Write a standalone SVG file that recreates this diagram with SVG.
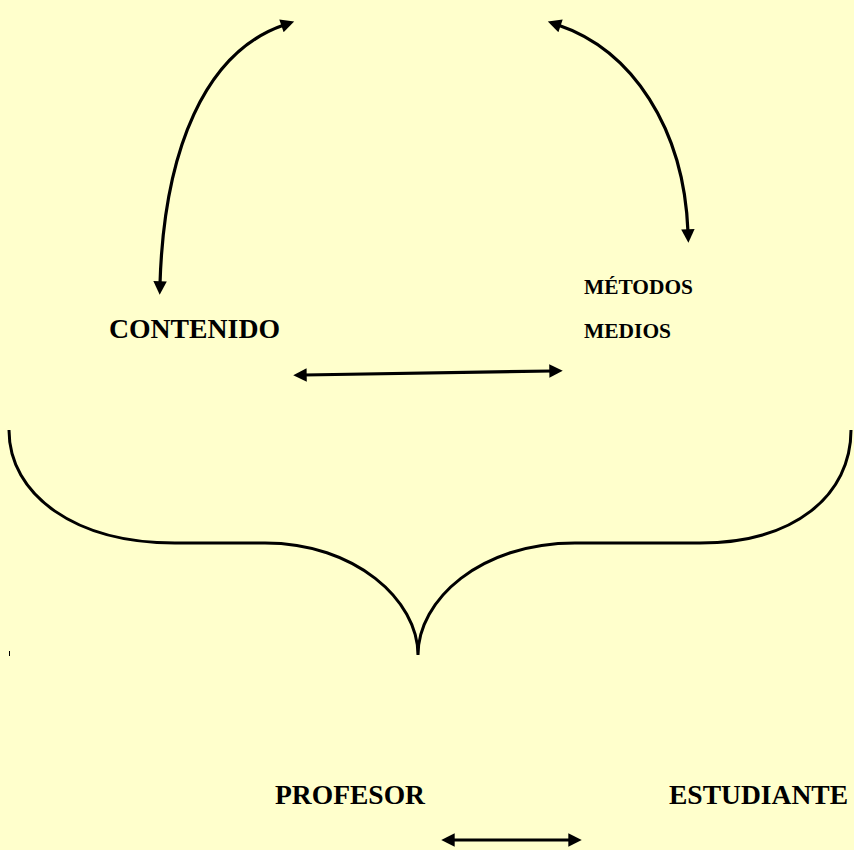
<svg xmlns="http://www.w3.org/2000/svg" width="854" height="850" viewBox="0 0 854 850">
<style>
.lbl{font-family:"Liberation Serif","Times New Roman",serif;font-weight:bold;fill:#000}
.big{font-size:28px}
.small{font-size:21px}
.conn{fill:none;stroke:#000;stroke-width:3.2}
.brace{fill:none;stroke:#000;stroke-width:3}
</style>
<defs>
<marker id="ah" viewBox="0 0 10 10" refX="2" refY="5" markerWidth="4.6" markerHeight="4.2" orient="auto-start-reverse" markerUnits="strokeWidth">
<path d="M0,0 L10,5 L0,10 z" fill="#000"/>
</marker>
</defs>
<rect x="0" y="0" width="854" height="850" fill="#FFFFCC"/>
<g id="connectors">
<path class="conn" d="M160,284 C164,150 205,52 284,25" marker-start="url(#ah)" marker-end="url(#ah)"/>
<path class="conn" d="M558,25 C632,50 684,128 688,232" marker-start="url(#ah)" marker-end="url(#ah)"/>
<path class="conn" d="M304,375 L552,371" marker-start="url(#ah)" marker-end="url(#ah)"/>
<path class="conn" d="M452,840 L571,840" marker-start="url(#ah)" marker-end="url(#ah)"/>
</g>
<g id="brace">
<path class="brace" d="M9,430 C9,495 75,543 175,543 L265,543 C355,543 418,600 418,655 C418,600 480,543 575,543 L700,543 C795,543 851,495 851,430"/>
<line x1="9.5" y1="651" x2="9.5" y2="656" stroke="#000" stroke-width="1"/>
</g>
<g id="contenido"><text class="lbl big" x="109" y="338" textLength="171" lengthAdjust="spacingAndGlyphs">CONTENIDO</text></g>
<g id="metodos"><text class="lbl small" x="584" y="294" textLength="109" lengthAdjust="spacingAndGlyphs">MÉTODOS</text></g>
<g id="medios"><text class="lbl small" x="584" y="338" textLength="87" lengthAdjust="spacingAndGlyphs">MEDIOS</text></g>
<g id="profesor"><text class="lbl big" x="275" y="804" textLength="150" lengthAdjust="spacingAndGlyphs">PROFESOR</text></g>
<g id="estudiante"><text class="lbl big" x="669" y="804" textLength="179" lengthAdjust="spacingAndGlyphs">ESTUDIANTE</text></g>
</svg>
